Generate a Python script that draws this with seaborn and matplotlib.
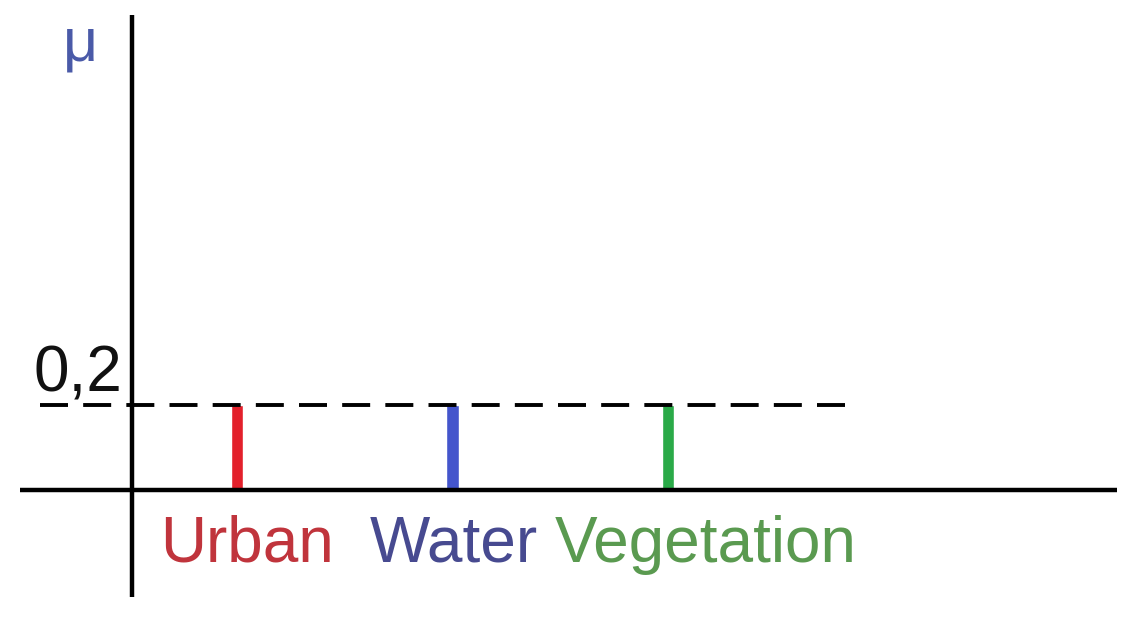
import matplotlib
matplotlib.use("Agg")
import matplotlib.pyplot as plt
import seaborn as sns
import pandas as pd

# Data
categories = ["Urban", "Water", "Vegetation"]
membership = [0.2, 0.2, 0.2]
threshold = 0.2
bar_colors = ["#e3202b", "#4455cc", "#2aaa48"]
label_colors = ["#c0343c", "#474a90", "#5a9a50"]
y_label = "\u03bc"
threshold_label = "0,2"

W, H = 1127, 617
sns.set_theme(style="white")
plt.rcParams["font.family"] = ["Liberation Sans", "DejaVu Sans"]

fig = plt.figure(figsize=(W / 100, H / 100), dpi=100)
ax = fig.add_axes([0, 0, 1, 1])

df = pd.DataFrame({"category": categories, "value": membership})
sns.barplot(data=df, x="category", y="value", hue="category",
            palette=bar_colors, width=0.058, legend=False, ax=ax,
            saturation=1)

# pixel-to-data mapping: category i at x_px = 237 + 215.5*i; y=0 at 490px, 0.2 at 405px
sx = 215.5
x0 = 237
sy = 425.0
y0 = 490
ax.set_xlim((0 - x0) / sx, (W - x0) / sx)
ax.set_ylim((y0 - H) / sy, (y0 - 0) / sy)
ax.axis("off")

def px_x(p):
    return (p - x0) / sx

def px_y(p):
    return (y0 - p) / sy

# Axis lines
ax.plot([px_x(20), px_x(1117)], [0, 0], color="black", lw=3.2, solid_capstyle="butt", zorder=3)
ax.plot([px_x(132), px_x(132)], [px_y(15), px_y(597)], color="black", lw=3.2, solid_capstyle="butt", zorder=3)
# Threshold dashed line
ax.plot([px_x(40), px_x(848)], [threshold, threshold], color="black", lw=2.8,
        dashes=(7.2, 3.9), zorder=1)

# Labels
fs = 46
ax.text(160 / W, 1 - 562 / H, categories[0], color=label_colors[0], fontsize=fs,
        ha="left", va="baseline", transform=ax.transAxes)
ax.text(370 / W, 1 - 562 / H, categories[1], color=label_colors[1], fontsize=fs,
        ha="left", va="baseline", transform=ax.transAxes)
ax.text(555 / W, 1 - 562 / H, categories[2], color=label_colors[2], fontsize=fs,
        ha="left", va="baseline", transform=ax.transAxes)
ax.text(33 / W, 1 - 392 / H, threshold_label, color="#111111", fontsize=fs,
        ha="left", va="baseline", transform=ax.transAxes)
ax.text(63 / W, 1 - 60 / H, y_label, color="#4a5aa8", fontsize=44,
        ha="left", va="baseline", transform=ax.transAxes)

fig.savefig("out.png", dpi=100)
